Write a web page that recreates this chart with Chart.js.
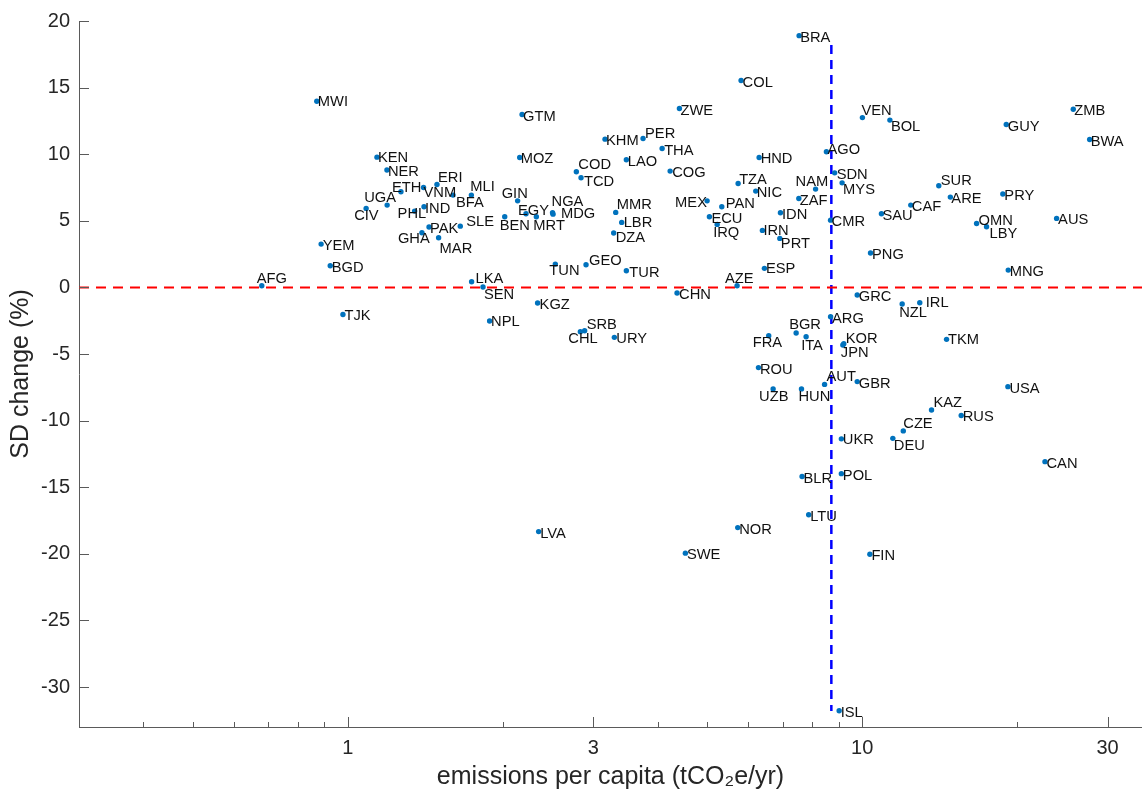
<!DOCTYPE html>
<html>
<head>
<meta charset="utf-8">
<script src="https://cdn.jsdelivr.net/npm/chart.js@4.4.1/dist/chart.umd.min.js"></script>
<style>
  html, body { margin: 0; padding: 0; background: #fff; }
</style>
</head>
<body>
<canvas id="chart" width="1142" height="796"></canvas>
<script>
// 국가 코드
const countries = [
  'MWI','KEN','NER','ETH','UGA','CIV','ERI','VNM','BFA','MLI',
  'IND','PHL','PAK','SLE','GHA','MAR','GIN','BEN','EGY','MRT',
  'NGA','MDG','GTM','MOZ','BRA','COL','ZWE','KHM','PER','THA',
  'LAO','COD','TCD','COG','HND','TZA','NIC','NAM','ZAF','MEX',
  'PAN','ECU','IRQ','IDN','IRN','PRT','MMR','LBR','DZA','VEN',
  'BOL','GUY','ZMB','BWA','AGO','SDN','MYS','SUR','ARE','PRY',
  'CAF','SAU','CMR','OMN','LBY','AUS','YEM','BGD','AFG','TJK',
  'LKA','SEN','NPL','KGZ','TUN','GEO','TUR','CHN','AZE','ESP',
  'SRB','CHL','URY','FRA','BGR','ITA','ROU','UZB','HUN','PNG',
  'MNG','GRC','NZL','IRL','ARG','KOR','JPN','TKM','AUT','GBR',
  'USA','KAZ','RUS','CZE','DEU','UKR','CAN','BLR','LTU','LVA',
  'NOR','SWE','POL','FIN','ISL'
];

// 1인당 배출량 (tCO2e/yr)
const emissions = [
  0.870, 1.139, 1.191, 1.268, 1.192, 1.085, 1.490, 1.403, 1.601, 1.738,
  1.406, 1.348, 1.438, 1.654, 1.393, 1.501, 2.138, 2.018, 2.220, 2.325,
  2.500, 2.505, 2.181, 2.158, 7.54, 5.815, 4.412, 3.162, 3.749, 4.083,
  3.479, 2.781, 2.840, 4.232, 6.304, 5.738, 6.209, 8.116, 7.53, 4.994,
  5.333, 5.046, 5.224, 6.935, 6.397, 6.916, 3.317, 3.407, 3.287, 10.01,
  11.32, 19.06, 25.73, 27.69, 8.52, 8.84, 9.14, 14.09, 14.84, 18.77,
  12.43, 10.90, 8.68, 16.69, 17.45, 23.88, 0.887, 0.924, 0.680, 0.978,
  1.740, 1.831, 1.886, 2.338, 2.531, 2.904, 3.479, 4.365, 5.711, 6.455,
  2.886, 2.831, 3.297, 6.581, 7.44, 7.78, 6.285, 6.711, 7.62, 10.38,
  19.23, 9.78, 11.96, 12.94, 8.68, 9.21, 9.17, 14.59, 8.45, 9.78,
  19.20, 13.64, 15.58, 12.02, 11.47, 9.11, 22.67, 7.64, 7.87, 2.349,
  5.728, 4.531, 9.11, 10.35, 9.02
];

// SD 변화율 (%)
const sdChange = [
  13.98, 9.78, 8.81, 7.18, 6.18, 5.93, 7.73, 7.50, 6.93, 6.93,
  6.05, 5.73, 4.53, 4.60, 4.10, 3.73, 6.50, 5.30, 5.53, 5.30,
  5.60, 5.50, 12.98, 9.75, 18.90, 15.53, 13.43, 11.13, 11.18, 10.43,
  9.58, 8.68, 8.23, 8.73, 9.75, 7.80, 7.23, 7.38, 6.68, 6.50,
  6.05, 5.30, 4.73, 5.60, 4.28, 3.68, 5.63, 4.88, 4.08, 12.75,
  12.56, 12.23, 13.38, 11.10, 10.18, 8.60, 7.85, 7.63, 6.78, 7.01,
  6.18, 5.53, 5.05, 4.80, 4.55, 5.18, 3.25, 1.63, 0.13, -2.03,
  0.43, 0.03, -2.52, -1.17, 1.75, 1.70, 1.25, -0.42, 0.13, 1.43,
  -3.25, -3.32, -3.75, -3.62, -3.42, -3.70, -6.02, -7.62, -7.62, 2.58,
  1.30, -0.57, -1.25, -1.15, -2.20, -4.22, -4.32, -3.90, -7.28, -7.07,
  -7.45, -9.20, -9.62, -10.77, -11.33, -11.37, -13.08, -14.20, -17.07, -18.33,
  -18.03, -19.95, -13.98, -20.03, -31.78
];

// 라벨 위치 보정 (px)
const labelDx = [
  1, 1, 1, -9, -23, -12, 1, 0, 3, -1,
  1, -17, 1, 6, -24, 1, -16, -5, -8, -3,
  -1, 8, 1, 1, 1, 1.5, 1, 1, 2, 2,
  1.5, 2, 3, 2, 1.5, 1, 1, -20, 1, -32,
  4, 2, -4, 1.5, 1, 1, 1, 2, 2, -1,
  1, 1.5, 1, 1, 1, 2, 1, 2, 1, 1.5,
  1, 1, 1, 2, 3, 1.5, 1.5, 1.5, -5, 1.5,
  4, 1, 1.5, 2, -6, 3, 3, 2, -12, 1.5,
  2, -12, 2, -16, -7, -5, 1.5, -14, -3, 1.5,
  1.5, 1.5, -3, 6, 1.5, 2, -2, 1.5, 2, 1.5,
  1.5, 2, 1.5, 0, 1, 1.5, 1.5, 1.5, 1.5, 1.5,
  1.5, 1.5, 1.5, 1.5, 1.5
];
const labelDy = [
  1, 1, 2, -4, -7, 8, -7, 5, 8, -8,
  2, 3, 2, -4, 6, 11, -7, 9, -3, 9,
  -11, 0, 2, 1, 2, 2, 2, 2, -5, 2,
  2, -7, 4, 2, 1, -4, 2, -7, 3, 2,
  -3, 2, 9, 2, 1, 6, -7, 1, 5, -7,
  7, 2, 2, 2, -2, 2, 7, -5, 2, 2,
  2, 2, 2, -3, 7, 1.5, 2, 2, -7, 1,
  -3, 8, 1, 2, 7, -4, 2, 2, -7, 1,
  -6, 7, 2, 7, -8, 9, 2, 8, 8, 2,
  2, 2, 9, 0, 2, -5, 8, 1, -7, 2,
  2, -7, 1, -7, 8, 1.5, 2, 2, 2, 2,
  2, 2, 2, 2, 2
];

// 축 눈금
const xTicks = [1, 3, 10, 30];
const xMinorTicks = [0.4, 0.5, 0.6, 0.7, 0.8, 0.9, 2, 4, 5, 6, 7, 8, 9, 20];
const yTicks = [-30, -25, -20, -15, -10, -5, 0, 5, 10, 15, 20];
const xRange = [0.3, 35.0];
const yRange = [-33, 20];

// 기준선
const zeroLevel = 0;
const thresholdX = 8.71;
const thresholdSpan = [-31.8, 18.2];

const axisColor = '#5a5a5a';
const textColor = '#262626';
const fontFamily = '"Liberation Sans", Arial, Helvetica, sans-serif';

// 안쪽 눈금과 국가 라벨
const labelPlugin = {
  id: 'labelPlugin',
  afterDatasetsDraw(chart) {
    const { ctx, scales: { x, y }, chartArea } = chart;
    ctx.save();
    ctx.strokeStyle = axisColor;
    ctx.lineWidth = 1;
    ctx.beginPath();
    yTicks.forEach(v => {
      const py = Math.round(y.getPixelForValue(v)) + 0.5;
      ctx.moveTo(chartArea.left, py);
      ctx.lineTo(chartArea.left + 10, py);
    });
    xTicks.forEach(v => {
      const px = Math.round(x.getPixelForValue(v)) + 0.5;
      ctx.moveTo(px, chartArea.bottom);
      ctx.lineTo(px, chartArea.bottom - 10);
    });
    xMinorTicks.forEach(v => {
      const px = Math.round(x.getPixelForValue(v)) + 0.5;
      ctx.moveTo(px, chartArea.bottom);
      ctx.lineTo(px, chartArea.bottom - 5);
    });
    ctx.stroke();

    ctx.font = '14.7px ' + fontFamily;
    ctx.fillStyle = '#111';
    ctx.textAlign = 'left';
    ctx.textBaseline = 'middle';
    countries.forEach((c, i) => {
      const px = x.getPixelForValue(emissions[i]);
      const py = y.getPixelForValue(sdChange[i]);
      ctx.fillText(c, px + labelDx[i], py + labelDy[i]);
    });
    ctx.restore();
  }
};

function initScatter() {
  const ctx = document.getElementById('chart');
  new Chart(ctx, {
    type: 'scatter',
    data: {
      datasets: [
        {
          label: 'countries',
          data: emissions.map((v, i) => ({ x: v, y: sdChange[i] })),
          pointRadius: 2.7,
          pointBackgroundColor: '#0072BD',
          pointBorderWidth: 0,
          showLine: false
        },
        {
          type: 'line',
          label: 'zero',
          data: [{ x: xRange[0], y: zeroLevel }, { x: xRange[1], y: zeroLevel }],
          borderColor: '#ff0000',
          borderWidth: 2,
          borderDash: [10, 7],
          pointRadius: 0,
          fill: false
        },
        {
          type: 'line',
          label: 'threshold',
          data: [{ x: thresholdX, y: thresholdSpan[1] }, { x: thresholdX, y: thresholdSpan[0] }],
          borderColor: '#0000ff',
          borderWidth: 2.5,
          borderDash: [9, 6],
          pointRadius: 0,
          fill: false
        }
      ]
    },
    options: {
      responsive: false,
      animation: false,
      devicePixelRatio: 1,
      layout: { autoPadding: false, padding: { top: 19, right: 0, left: 0, bottom: 0 } },
      plugins: {
        legend: { display: false },
        tooltip: { enabled: false }
      },
      scales: {
        x: {
          type: 'logarithmic',
          position: 'bottom',
          min: xRange[0],
          max: xRange[1],
          grid: { display: false, drawTicks: false },
          border: { display: true, color: axisColor, width: 1 },
          afterBuildTicks: s => { s.ticks = xTicks.map(v => ({ value: v })); },
          afterFit: s => { s.height = 69; },
          ticks: {
            autoSkip: false,
            maxRotation: 0,
            padding: 9,
            color: textColor,
            font: { family: fontFamily, size: 20 },
            callback: v => String(v)
          },
          title: {
            display: true,
            text: 'emissions per capita (tCO\u2082e/yr)',
            color: textColor,
            font: { family: fontFamily, size: 25 },
            padding: { top: 0, bottom: 4 }
          }
        },
        y: {
          type: 'linear',
          min: yRange[0],
          max: yRange[1],
          grid: { display: false, drawTicks: false },
          border: { display: true, color: axisColor, width: 1 },
          afterBuildTicks: s => { s.ticks = yTicks.map(v => ({ value: v })); },
          afterFit: s => { s.width = 79; },
          ticks: {
            padding: 9,
            color: textColor,
            font: { family: fontFamily, size: 20 }
          },
          title: {
            display: true,
            text: 'SD change (%)',
            color: textColor,
            font: { family: fontFamily, size: 25 },
            padding: { top: 6, bottom: 0 }
          }
        }
      }
    },
    plugins: [labelPlugin]
  });
}

document.addEventListener('DOMContentLoaded', () => {
  initScatter();
});
</script>
</body>
</html>
